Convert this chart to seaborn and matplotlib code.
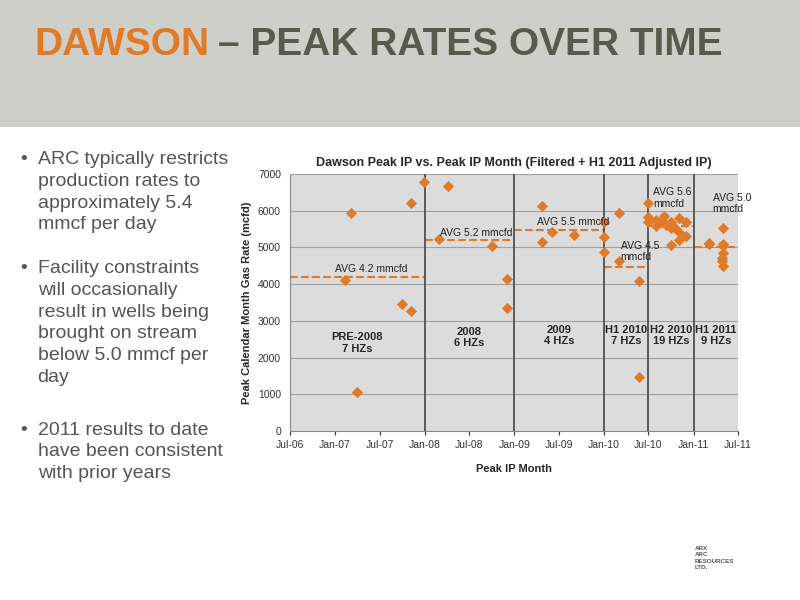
import numpy as np
import pandas as pd
import seaborn as sns
import matplotlib.pyplot as plt
import matplotlib.dates as mdates
from matplotlib.patches import Rectangle

# peak IP month and peak rate (mcfd)
months = ["2007-03-05", "2007-02-10", "2007-04-01", "2007-11-05", "2007-10-01", "2007-11-05", "2007-12-31",
          "2008-04-05", "2008-03-01", "2008-10-01", "2008-12-01", "2008-12-01",
          "2009-04-25", "2009-04-25", "2009-06-01", "2009-09-01",
          "2010-01-01", "2010-01-01", "2010-01-01", "2010-03-05", "2010-03-05", "2010-05-25", "2010-05-25",
          "2010-07-01", "2010-07-01", "2010-07-01", "2010-08-01", "2010-08-01", "2010-08-20", "2010-09-01",
          "2010-09-01", "2010-09-10", "2010-10-01", "2010-10-01", "2010-10-01", "2010-10-01", "2010-10-15",
          "2010-11-01", "2010-11-01", "2010-11-01", "2010-12-01", "2010-12-01",
          "2011-03-05", "2011-03-05", "2011-04-25", "2011-05-01", "2011-05-01", "2011-05-01", "2011-05-01",
          "2011-05-01", "2011-04-25"]
rates = [5950, 4110, 1060, 6200, 3460, 3270, 6780,
         6680, 5230, 5040, 4140, 3350,
         6130, 5150, 5420, 5340,
         5690, 5290, 4880, 5940, 4630, 4090, 1470,
         6210, 5830, 5700, 5750, 5590, 5700, 5860,
         5670, 5610, 5700, 5590, 5530, 5070, 5560,
         5800, 5420, 5200, 5310, 5700,
         5120, 5100, 4630, 5530, 5100, 4850, 4500,
         5050, 4700]

period_starts = ["2006-07-01", "2008-01-01", "2009-01-01", "2010-01-01", "2010-07-01", "2011-01-01"]
period_ends = ["2008-01-01", "2009-01-01", "2010-01-01", "2010-07-01", "2011-01-01", "2011-07-01"]
period_avgs = [4200, 5200, 5480, 4470, 5590, 5000]
period_names = ["PRE-2008\n7 HZs", "2008\n6 HZs", "2009\n4 HZs", "H1 2010\n7 HZs", "H2 2010\n19 HZs", "H1 2011\n9 HZs"]
period_label_y = [2400, 2550, 2600, 2600, 2600, 2600]
avg_texts = ["AVG 4.2 mmcfd", "AVG 5.2 mmcfd", "AVG 5.5 mmcfd", "AVG 4.5\nmmcfd", "AVG 5.6\nmmcfd", "AVG 5.0\nmmcfd"]
avg_text_pos = [("2007-01-01", 4270, "left"), ("2008-03-05", 5270, "left"), ("2009-04-01", 5560, "left"),
                ("2010-03-10", 4600, "left"), ("2010-07-20", 6050, "left"), ("2011-03-20", 5900, "left")]

orange = "#e07a26"
df = pd.DataFrame({"month": pd.to_datetime(months), "rate": rates})

sns.set_style("white")
plt.rcParams["font.family"] = ["Liberation Sans", "DejaVu Sans"]
fig = plt.figure(figsize=(8, 6), dpi=100)

# header band
hdr = fig.add_axes([0, 1 - 127 / 600, 1, 127 / 600])
hdr.set_axis_off()
hdr.add_patch(Rectangle((0, 0), 1, 1, color="#cfcfc9", transform=hdr.transAxes))
fig.text(0.043, 0.925, "DAWSON", color=orange, fontsize=28, fontweight="heavy", va="center")
fig.text(0.272, 0.925, "\u2013 PEAK RATES OVER TIME", color="#5a5a4c", fontsize=28, fontweight="heavy", va="center")

bullets = ["ARC typically restricts\nproduction rates to\napproximately 5.4\nmmcf per day",
           "Facility constraints\nwill occasionally\nresult in wells being\nbrought on stream\nbelow 5.0 mmcf per\nday",
           "2011 results to date\nhave been consistent\nwith prior years"]
for y, b in zip([0.748, 0.566, 0.297], bullets):
    fig.text(0.025, y, "\u2022", fontsize=14, color="#555555", va="top")
    fig.text(0.047, y, b, fontsize=14, color="#555555", va="top", linespacing=1.36)

ax = fig.add_axes([290 / 800, 169 / 600, 448 / 800, 257 / 600])
ax.set_facecolor("#dcdcdc")
sns.scatterplot(data=df, x="month", y="rate", marker="D", s=28, color=orange, edgecolor=orange, ax=ax, zorder=3)

for s, e, a, n, ly, t, (tx, ty, ha) in zip(period_starts, period_ends, period_avgs, period_names,
                                           period_label_y, avg_texts, avg_text_pos):
    s, e = pd.Timestamp(s), pd.Timestamp(e)
    ax.plot([s, e], [a, a], ls="--", color=orange, lw=1.5, zorder=2)
    ax.text(s + (e - s) / 2, ly, n, ha="center", va="center", fontsize=8, fontweight="bold")
    ax.text(pd.Timestamp(tx), ty, t, ha=ha, va="bottom", fontsize=7.5, color="#222222")
for s in period_starts[1:]:
    ax.axvline(pd.Timestamp(s), color="#444444", lw=1.2, zorder=2)

ax.set_xlim(pd.Timestamp("2006-07-01"), pd.Timestamp("2011-07-01"))
ax.set_ylim(0, 7000)
ax.set_yticks(range(0, 7001, 1000))
ax.yaxis.grid(True, color="#a0a0a0", lw=0.8)
ax.xaxis.set_major_locator(mdates.MonthLocator(bymonth=[1, 7]))
ax.xaxis.set_major_formatter(mdates.DateFormatter("%b-%y"))
ax.tick_params(labelsize=7.5, colors="#333333", length=3)
ax.tick_params(axis="x", direction="out", bottom=True)
for sp in ["top", "right"]:
    ax.spines[sp].set_visible(False)
for sp in ["left", "bottom"]:
    ax.spines[sp].set_color("#888888")
ax.set_xlabel("Peak IP Month", fontsize=8, fontweight="bold", labelpad=10)
ax.set_ylabel("Peak Calendar Month Gas Rate (mcfd)", fontsize=8, fontweight="bold")
ax.set_title("Dawson Peak IP vs. Peak IP Month (Filtered + H1 2011 Adjusted IP)", fontsize=9, fontweight="bold", pad=6)

fig.text(0.868, 0.052, "ARX\nARC\nRESOURCES\nLTD.", fontsize=4.5, fontweight="bold", color="#555555", linespacing=1.3)

fig.savefig("out.png", dpi=100)
